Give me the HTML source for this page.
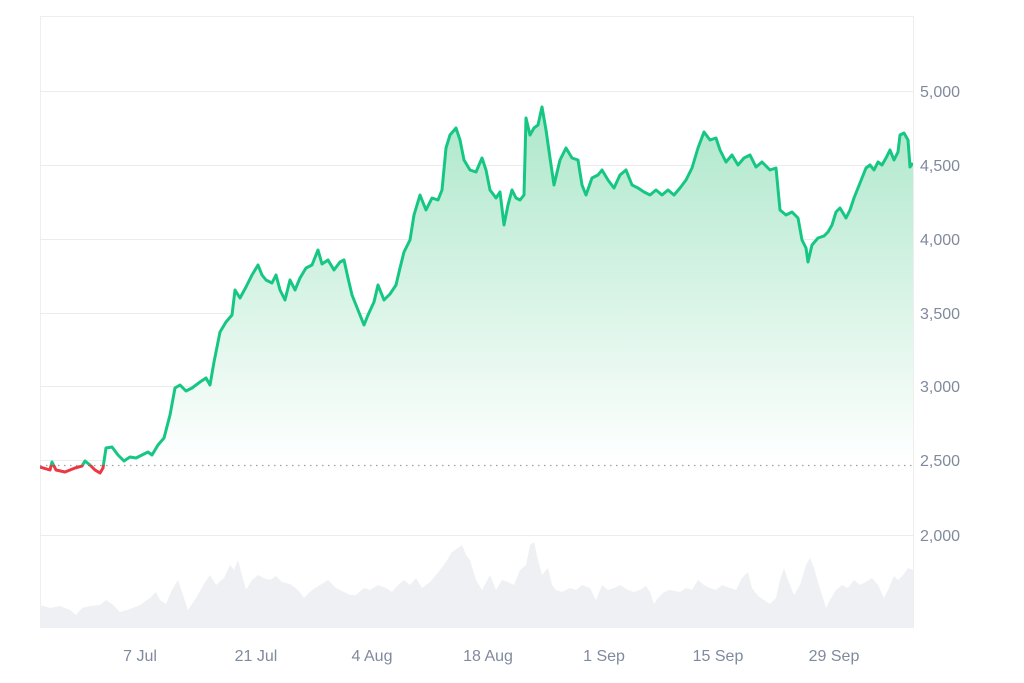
<!DOCTYPE html>
<html><head><style>
body{margin:0;background:#fff;}
svg{display:block;font-family:"Liberation Sans",sans-serif;}
</style></head><body>
<svg width="1024" height="683" viewBox="0 0 1024 683">
<defs>
<linearGradient id="g" x1="0" y1="90" x2="0" y2="465" gradientUnits="userSpaceOnUse">
<stop offset="0" stop-color="#a9e6c8"/><stop offset="1" stop-color="#ffffff"/>
</linearGradient>
<clipPath id="above"><rect x="40" y="0" width="873" height="465"/></clipPath>
<clipPath id="below"><rect x="40" y="465" width="873" height="200"/></clipPath>
</defs>
<rect x="40.5" y="16.5" width="873" height="611" fill="none" stroke="#eeeeee"/>
<g stroke="#ececec" stroke-width="1">
<line x1="40" y1="91.5" x2="913" y2="91.5"/>
<line x1="40" y1="165.5" x2="913" y2="165.5"/>
<line x1="40" y1="239.5" x2="913" y2="239.5"/>
<line x1="40" y1="313.5" x2="913" y2="313.5"/>
<line x1="40" y1="386.5" x2="913" y2="386.5"/>
<line x1="40" y1="460.5" x2="913" y2="460.5"/>
<line x1="40" y1="535.5" x2="913" y2="535.5"/>
</g>
<polygon fill="#eef0f3" points="40,628 40,605 50,608 60,606 70,610 76,615 82,608 90,606 100,605 106,600 112,604 120,612 130,609 140,605 150,598 156,592 160,600 166,604 172,590 178,580 182,592 188,610 196,598 204,584 210,575 216,585 224,578 230,565 234,570 238,560 242,575 246,590 252,580 258,575 264,578 270,580 276,576 282,582 290,584 298,590 304,598 312,590 320,585 328,580 336,588 344,592 350,595 356,595 364,588 370,590 378,585 386,588 392,592 398,585 404,580 410,585 416,578 422,588 430,582 436,575 440,570 446,562 452,552 458,548 462,545 466,555 470,560 476,580 482,590 490,575 496,590 502,580 508,582 514,585 520,570 526,565 530,545 534,542 538,560 542,575 548,568 552,585 556,590 562,592 570,588 576,590 582,585 590,588 596,600 602,585 608,590 614,588 620,585 628,590 634,592 640,590 646,586 650,592 654,604 658,598 664,592 670,590 680,592 686,588 692,590 698,580 704,585 710,588 716,590 722,585 730,588 736,590 742,578 748,572 752,588 758,596 764,600 770,604 776,598 780,580 784,568 788,580 794,595 800,585 806,565 810,558 814,568 818,582 822,595 826,608 830,600 836,590 842,585 848,588 854,580 860,585 866,582 872,578 878,585 884,598 888,590 894,576 898,580 904,574 908,568 913,570 913,628"/>
<polygon clip-path="url(#above)" fill="url(#g)" points="40,467 50,470 52,462 56,470 65,472 75,468 82,466 85,461 90,465 95,470 100,473 103,468 106,448 112,447 118,455 124,461 130,457 136,458 142,455 148,452 152,455 158,445 164,438 170,415 175,388 180,385 186,391 192,388 200,382 206,378 210,385 214,362 220,332 226,322 232,315 235,290 240,298 246,287 252,275 258,265 262,275 266,280 272,283 276,275 280,290 285,300 290,280 295,290 300,278 306,268 312,265 318,250 322,264 328,260 334,270 340,262 344,260 348,278 352,295 358,310 364,325 368,315 374,302 378,285 384,300 390,294 396,285 400,268 404,252 410,240 414,215 420,195 426,210 432,198 438,200 442,190 446,148 450,135 456,128 460,140 464,160 470,170 476,172 482,158 486,170 490,190 496,198 500,192 504,225 508,205 512,190 516,198 520,200 524,195 526,118 530,135 534,128 538,125 542,107 546,130 550,158 554,185 560,160 566,148 572,158 578,160 582,185 586,195 592,178 598,175 602,170 608,180 614,188 620,175 626,170 632,185 638,188 644,192 650,195 656,190 662,195 668,190 674,195 680,188 686,180 692,168 698,148 704,132 710,140 716,138 720,150 726,162 732,155 738,165 744,158 750,155 756,167 762,162 770,170 776,168 780,210 786,215 792,212 798,218 802,240 806,248 808,262 812,245 818,238 824,236 828,232 832,225 836,212 840,208 846,218 850,210 854,198 858,188 862,178 866,168 870,165 874,170 878,162 882,165 886,158 890,150 894,160 898,152 900,135 904,133 908,140 910,167 913,163 913,465 40,465"/>
<line x1="40" y1="465.5" x2="913" y2="465.5" stroke="#9aa0a8" stroke-width="1.3" stroke-dasharray="1.5,4.5"/>
<g id="ln">
<polyline fill="none" stroke-width="3" stroke-linejoin="round" points="40,467 50,470 52,462 56,470 65,472 75,468 82,466 85,461 90,465 95,470 100,473 103,468 106,448 112,447 118,455 124,461 130,457 136,458 142,455 148,452 152,455 158,445 164,438 170,415 175,388 180,385 186,391 192,388 200,382 206,378 210,385 214,362 220,332 226,322 232,315 235,290 240,298 246,287 252,275 258,265 262,275 266,280 272,283 276,275 280,290 285,300 290,280 295,290 300,278 306,268 312,265 318,250 322,264 328,260 334,270 340,262 344,260 348,278 352,295 358,310 364,325 368,315 374,302 378,285 384,300 390,294 396,285 400,268 404,252 410,240 414,215 420,195 426,210 432,198 438,200 442,190 446,148 450,135 456,128 460,140 464,160 470,170 476,172 482,158 486,170 490,190 496,198 500,192 504,225 508,205 512,190 516,198 520,200 524,195 526,118 530,135 534,128 538,125 542,107 546,130 550,158 554,185 560,160 566,148 572,158 578,160 582,185 586,195 592,178 598,175 602,170 608,180 614,188 620,175 626,170 632,185 638,188 644,192 650,195 656,190 662,195 668,190 674,195 680,188 686,180 692,168 698,148 704,132 710,140 716,138 720,150 726,162 732,155 738,165 744,158 750,155 756,167 762,162 770,170 776,168 780,210 786,215 792,212 798,218 802,240 806,248 808,262 812,245 818,238 824,236 828,232 832,225 836,212 840,208 846,218 850,210 854,198 858,188 862,178 866,168 870,165 874,170 878,162 882,165 886,158 890,150 894,160 898,152 900,135 904,133 908,140 910,167 913,163"/>
</g>
<use href="#ln" clip-path="url(#above)" stroke="#16c784"/>
<use href="#ln" clip-path="url(#below)" stroke="#ea3943"/>
<g fill="#808a9d" font-size="16">
<text x="920" y="97">5,000</text>
<text x="920" y="171">4,500</text>
<text x="920" y="245">4,000</text>
<text x="920" y="319">3,500</text>
<text x="920" y="392">3,000</text>
<text x="920" y="466">2,500</text>
<text x="920" y="541">2,000</text>
</g>
<g fill="#808a9d" font-size="16" text-anchor="middle">
<text x="140" y="661">7 Jul</text>
<text x="256" y="661">21 Jul</text>
<text x="372" y="661">4 Aug</text>
<text x="488" y="661">18 Aug</text>
<text x="604" y="661">1 Sep</text>
<text x="718" y="661">15 Sep</text>
<text x="834" y="661">29 Sep</text>
</g>
</svg>
</body></html>
